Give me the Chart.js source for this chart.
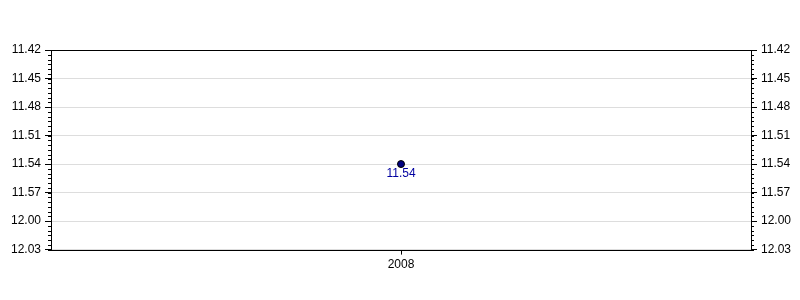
<!DOCTYPE html>
<html>
<head>
<meta charset="utf-8">
<script src="https://cdn.jsdelivr.net/npm/chart.js@4.4.1/dist/chart.umd.min.js"></script>
<style>
  html, body { margin: 0; padding: 0; background: #fff; }
  #wrap { width: 800px; height: 300px; }
</style>
</head>
<body>
<div id="wrap"><canvas id="timeChart"></canvas></div>
<script>
// datos: tiempos en formato min.seg
const years = ['2008'];
const times = ['11.54'];
const axisTop = '11.42';
const axisBottom = '12.03';
const majorStep = 3;   // segundos
const minorStep = 0.5; // segundos

const toSec = t => {
    const [m, s] = t.split('.');
    return parseInt(m, 10) * 60 + parseInt(s, 10);
};
const fmt = v => {
    const m = Math.floor(v / 60);
    const s = Math.round(v - m * 60);
    return m + '.' + String(s).padStart(2, '0');
};

const tickFont = { family: 'Liberation Sans, Arial, sans-serif', size: 12 };

// marco + ticks menores + etiqueta del punto
const extras = {
    id: 'extras',
    afterDraw(chart) {
        const ctx = chart.ctx;
        const a = chart.chartArea;
        const ys = chart.scales.y;
        ctx.save();
        ctx.strokeStyle = '#000';
        ctx.lineWidth = 1;
        ctx.beginPath();
        for (let v = ys.min; v <= ys.max + 1e-9; v += minorStep) {
            const py = Math.round(ys.getPixelForValue(v)) + 0.5;
            ctx.moveTo(a.left - 3, py); ctx.lineTo(a.left, py);
            ctx.moveTo(a.right, py); ctx.lineTo(a.right + 3, py);
        }
        ctx.stroke();
        ctx.strokeRect(Math.round(a.left) + 0.5, Math.round(a.top) + 0.5,
            Math.round(a.right - a.left), Math.round(a.bottom - a.top));

        const meta = chart.getDatasetMeta(0);
        ctx.fillStyle = '#0000a0';
        ctx.font = '12px Liberation Sans, Arial, sans-serif';
        ctx.textAlign = 'center';
        ctx.textBaseline = 'top';
        meta.data.forEach((pt, i) => {
            ctx.fillText(times[i], pt.x, pt.y + 4);
        });
        ctx.restore();
    }
};

const yAxis = (pos) => ({
    type: 'linear',
    position: pos,
    reverse: true,
    min: toSec(axisTop),
    max: toSec(axisBottom),
    afterFit: s => { s.width = pos === 'left' ? 51 : 49; },
    afterBuildTicks: s => {
        s.ticks = [];
        for (let v = s.min; v <= s.max; v += majorStep) s.ticks.push({ value: v });
    },
    ticks: {
        color: '#000',
        font: tickFont,
        padding: 4,
        callback: v => fmt(v)
    },
    grid: {
        display: true,
        drawOnChartArea: pos === 'left',
        color: '#dddddd',
        tickColor: '#000',
        tickLength: 6
    },
    border: { display: false }
});

const timeCtx = document.getElementById('timeChart').getContext('2d');
const timeChart = new Chart(timeCtx, {
    type: 'line',
    data: {
        labels: years,
        datasets: [{
            data: times.map(toSec),
            yAxisID: 'y',
            borderColor: '#000',
            backgroundColor: '#000080',
            pointRadius: 3.5,
            pointBorderWidth: 1,
            pointBorderColor: '#000',
            pointBackgroundColor: '#000080',
            showLine: false
        }]
    },
    options: {
        responsive: true,
        maintainAspectRatio: false,
        animation: false,
        layout: { padding: { top: 50, bottom: 25, left: 0, right: 0 } },
        plugins: {
            legend: { display: false },
            tooltip: { enabled: false }
        },
        scales: {
            x: {
                type: 'category',
                offset: true,
                ticks: { color: '#000', font: tickFont, padding: 3 },
                grid: {
                    offset: false,
                    drawOnChartArea: false,
                    tickColor: '#000',
                    tickLength: 5
                },
                border: { display: false }
            },
            y: yAxis('left'),
            y2: yAxis('right')
        }
    },
    plugins: [extras]
});
</script>
</body>
</html>
